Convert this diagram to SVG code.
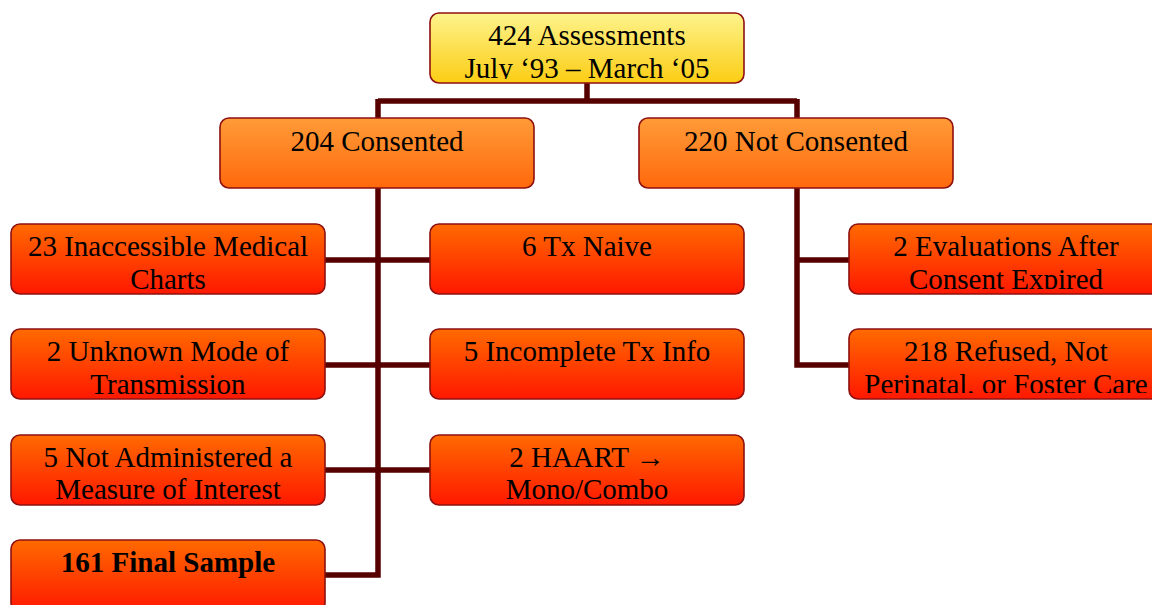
<svg xmlns="http://www.w3.org/2000/svg" width="1152" height="605" viewBox="0 0 1152 605">
<defs>
<linearGradient id="gY" x1="0" y1="0" x2="0" y2="1"><stop offset="0" stop-color="#fdf38c"/><stop offset="1" stop-color="#fccd14"/></linearGradient>
<linearGradient id="gO" x1="0" y1="0" x2="0" y2="1"><stop offset="0" stop-color="#ff9b38"/><stop offset="1" stop-color="#ff690c"/></linearGradient>
<linearGradient id="gR" x1="0" y1="0" x2="0" y2="1"><stop offset="0" stop-color="#ff6a00"/><stop offset="1" stop-color="#ff1800"/></linearGradient>
<clipPath id="c0"><rect x="430" y="13" width="314" height="66"/></clipPath>
<clipPath id="cL1"><rect x="11" y="224" width="314" height="66"/></clipPath>
<clipPath id="cL2"><rect x="11" y="329" width="314" height="65"/></clipPath>
<clipPath id="cL3"><rect x="11" y="435" width="314" height="66"/></clipPath>
<clipPath id="cM1"><rect x="430" y="224" width="314" height="66"/></clipPath>
<clipPath id="cM2"><rect x="430" y="329" width="314" height="65"/></clipPath>
<clipPath id="cM3"><rect x="430" y="435" width="314" height="66"/></clipPath>
<clipPath id="cR1"><rect x="849" y="224" width="314" height="65"/></clipPath>
<clipPath id="cR2"><rect x="849" y="329" width="314" height="64"/></clipPath>
</defs>
<style>
.box{stroke:#8e1010;stroke-width:1.6}
.y{fill:url(#gY)}
.o{fill:url(#gO)}
.r{fill:url(#gR)}
text{font-family:"Liberation Serif","Times New Roman",serif;font-size:29px;fill:#000;text-anchor:middle}
.b{font-weight:bold}
.ln{stroke:#560000;stroke-width:5.5;fill:none;stroke-linecap:butt;stroke-linejoin:miter}
</style>
<g id="connectors">
<path class="ln" d="M587 83 V101 M378 101 H797 M378 99 V118 M797 99 V118"/>
<path class="ln" d="M378 188 V575 H325"/>
<path class="ln" d="M325 260 H430 M325 365 H430 M325 470 H430"/>
<path class="ln" d="M797 188 V365 H849 M797 260 H849"/>
</g>
<g id="n-assess"><rect class="box y" x="430" y="13" width="314" height="70" rx="9"/><g clip-path="url(#c0)"><text x="587" y="45">424 Assessments</text><text x="587" y="78">July ‘93 – March ‘05</text></g></g>
<g id="n-consented"><rect class="box o" x="220" y="118" width="314" height="70" rx="9"/><text x="377" y="151">204 Consented</text></g>
<g id="n-notconsented"><rect class="box o" x="639" y="118" width="314" height="70" rx="9"/><text x="796" y="151">220 Not Consented</text></g>
<g id="n-charts"><rect class="box r" x="11" y="224" width="314" height="70" rx="9"/><g clip-path="url(#cL1)"><text x="168" y="256">23 Inaccessible Medical</text><text x="168" y="289">Charts</text></g></g>
<g id="n-mode"><rect class="box r" x="11" y="329" width="314" height="70" rx="9"/><g clip-path="url(#cL2)"><text x="168" y="361">2 Unknown Mode of</text><text x="168" y="394">Transmission</text></g></g>
<g id="n-measure"><rect class="box r" x="11" y="435" width="314" height="70" rx="9"/><g clip-path="url(#cL3)"><text x="168" y="467">5 Not Administered a</text><text x="168" y="499">Measure of Interest</text></g></g>
<g id="n-final"><rect class="box r" x="11" y="540" width="314" height="72" rx="9"/><text class="b" x="168" y="572">161 Final Sample</text></g>
<g id="n-naive"><rect class="box r" x="430" y="224" width="314" height="70" rx="9"/><g clip-path="url(#cM1)"><text x="587" y="256">6 Tx Naive</text></g></g>
<g id="n-incomplete"><rect class="box r" x="430" y="329" width="314" height="70" rx="9"/><g clip-path="url(#cM2)"><text x="587" y="361">5 Incomplete Tx Info</text></g></g>
<g id="n-haart"><rect class="box r" x="430" y="435" width="314" height="70" rx="9"/><g clip-path="url(#cM3)"><text x="587" y="467">2 HAART →</text><text x="587" y="499">Mono/Combo</text></g></g>
<g id="n-expired"><rect class="box r" x="849" y="224" width="314" height="70" rx="9"/><g clip-path="url(#cR1)"><text x="1006" y="256">2 Evaluations After</text><text x="1006" y="289">Consent Expired</text></g></g>
<g id="n-refused"><rect class="box r" x="849" y="329" width="314" height="70" rx="9"/><g clip-path="url(#cR2)"><text x="1006" y="361">218 Refused, Not</text><text x="1006" y="394">Perinatal, or Foster Care</text></g></g>
</svg>
